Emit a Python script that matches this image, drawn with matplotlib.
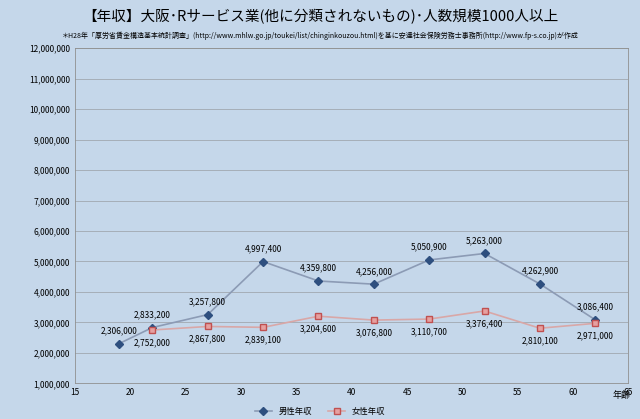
import matplotlib
matplotlib.use("Agg")
import matplotlib.pyplot as plt
from matplotlib.ticker import FuncFormatter

plt.rcParams['font.family'] = ['Noto Sans CJK JP']

male_age = [19, 22, 27, 32, 37, 42, 47, 52, 57, 62]
male_pay = [2306000, 2833200, 3257800, 4997400, 4359800, 4256000, 5050900, 5263000, 4262900, 3086400]
female_age = [22, 27, 32, 37, 42, 47, 52, 57, 62]
female_pay = [2752000, 2867800, 2839100, 3204600, 3076800, 3110700, 3376400, 2810100, 2971000]

bg = '#c5d7ea'
fig = plt.figure(figsize=(6.4, 4.19), dpi=100, facecolor=bg)
ax = fig.add_axes([0.117, 0.085, 0.865, 0.80], facecolor=bg)

ax.plot(male_age, male_pay, color='#8c9bb5', marker='D', markersize=4, mfc='#2e4f7f', mec='#2e4f7f', lw=1.2, label='男性年収')
ax.plot(female_age, female_pay, color='#d9a7a7', marker='s', markersize=5, mfc='#e6a0a0', mec='#c05050', lw=1.2, label='女性年収')

for x, y in zip(male_age, male_pay):
    ax.annotate(f'{y:,}', (x, y), xytext=(0, 6), textcoords='offset points', ha='center', va='bottom', fontsize=6)
for x, y in zip(female_age, female_pay):
    ax.annotate(f'{y:,}', (x, y), xytext=(0, -6), textcoords='offset points', ha='center', va='top', fontsize=6)

ax.set_xlim(15, 65)
ax.set_ylim(1000000, 12000000)
ax.set_xticks(range(15, 66, 5))
ax.set_yticks(range(1000000, 12000001, 1000000))
ax.yaxis.set_major_formatter(FuncFormatter(lambda v, p: f'{int(v):,}'))
ax.tick_params(labelsize=6, length=0)
ax.grid(axis='y', color='#a0a8b0', lw=0.6)
for s in ax.spines.values():
    s.set_color('#909090'); s.set_linewidth(0.6)
fig.text(0.985, 0.055, '年齢', fontsize=6.5, ha='right', va='center')

fig.text(0.5, 0.96, '【年収】大阪･Rサービス業(他に分類されないもの)･人数規模1000人以上', ha='center', va='center', fontsize=10.5)
fig.text(0.5, 0.915, '＊H28年「厚労省賃金構造基本統計調査」(http://www.mhlw.go.jp/toukei/list/chinginkouzou.html)を基に安達社会保険労務士事務所(http://www.fp-s.co.jp)が作成', ha='center', va='center', fontsize=5)

fig.legend(loc='lower center', ncol=2, frameon=False, fontsize=6, bbox_to_anchor=(0.5, -0.01))
fig.savefig('out.png', dpi=100, facecolor=bg)
